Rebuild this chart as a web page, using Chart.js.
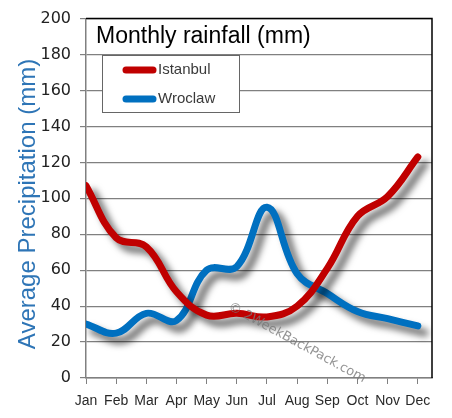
<!DOCTYPE html>
<html>
<head>
<meta charset="utf-8">
<script src="https://cdn.jsdelivr.net/npm/chart.js@4"></script>
<style>
  html, body { margin: 0; padding: 0; background: #fff; }
  #wrap { width: 452px; height: 418px; }
</style>
</head>
<body>
<div id="wrap"><canvas id="rainChart" width="452" height="418"></canvas></div>
<script>
const months = ['Jan', 'Feb', 'Mar', 'Apr', 'May', 'Jun', 'Jul', 'Aug', 'Sep', 'Oct', 'Nov', 'Dec'];
const istanbul = [107, 78, 73, 48, 35, 36, 34, 40, 61, 90, 101, 123];
const wroclaw = [30, 25, 36, 32, 60, 62, 95, 58, 47, 37, 33, 29];
const yTicks = [0, 20, 40, 60, 80, 100, 120, 140, 160, 180, 200];

const toPoints = arr => arr.map((v, i) => ({ x: i, y: v }));

// drop shadow under each line
const shadowPlugin = {
    id: 'shadow',
    beforeDatasetDraw(chart) {
        const ctx = chart.ctx;
        ctx.save();
        ctx.shadowColor = 'rgba(0,0,0,0.6)';
        ctx.shadowBlur = 7;
        ctx.shadowOffsetX = 7;
        ctx.shadowOffsetY = 7;
    },
    afterDatasetDraw(chart) {
        chart.ctx.restore();
    }
};

// title, y title, legend box, frame and watermark
const decorPlugin = {
    id: 'decor',
    afterDraw(chart) {
        const ctx = chart.ctx;
        const a = chart.chartArea;
        ctx.save();

        // black frame top + right
        ctx.strokeStyle = '#000';
        ctx.lineWidth = 1.5;
        ctx.beginPath();
        ctx.moveTo(a.left, a.top);
        ctx.lineTo(a.right, a.top);
        ctx.lineTo(a.right, a.bottom);
        ctx.stroke();

        // title
        ctx.fillStyle = '#000';
        ctx.font = '23px "Liberation Sans"';
        ctx.textBaseline = 'alphabetic';
        ctx.textAlign = 'left';
        ctx.fillText('Monthly rainfall (mm)', 96, 43);

        // y axis title
        ctx.save();
        ctx.translate(28, 204);
        ctx.rotate(-Math.PI / 2);
        ctx.fillStyle = '#2e75b6';
        ctx.font = '24px "Liberation Sans"';
        ctx.textAlign = 'center';
        ctx.textBaseline = 'middle';
        ctx.fillText('Average Precipitation (mm)', 0, 0);
        ctx.restore();

        // legend
        ctx.fillStyle = '#fff';
        ctx.fillRect(102, 55, 138, 58);
        ctx.strokeStyle = '#666';
        ctx.lineWidth = 1;
        ctx.strokeRect(102.5, 55.5, 137, 57);
        const ys = [70, 99];
        chart.data.datasets.forEach((ds, i) => {
            ctx.strokeStyle = ds.borderColor;
            ctx.lineWidth = 7;
            ctx.lineCap = 'round';
            ctx.beginPath();
            ctx.moveTo(126, ys[i]);
            ctx.lineTo(153, ys[i]);
            ctx.stroke();
            ctx.fillStyle = '#3a3a3a';
            ctx.font = '15px "Liberation Sans"';
            ctx.textBaseline = 'middle';
            ctx.fillText(ds.label, 158, ys[i]);
        });

        // watermark
        ctx.translate(229, 306);
        ctx.rotate(28.5 * Math.PI / 180);
        ctx.fillStyle = 'rgba(120,120,120,0.8)';
        ctx.font = '13px "DejaVu Sans"';
        ctx.textBaseline = 'middle';
        ctx.fillText('\u00a9 2WeekBackPack.com', 0, 0);

        ctx.restore();
    }
};

new Chart(document.getElementById('rainChart'), {
    type: 'line',
    data: {
        datasets: [{
            label: 'Istanbul',
            data: toPoints(istanbul),
            borderColor: '#c00000',
            borderWidth: 7,
            tension: 0.4,
            pointRadius: 0,
            borderCapStyle: 'round',
            borderJoinStyle: 'round',
            fill: false
        }, {
            label: 'Wroclaw',
            data: toPoints(wroclaw),
            borderColor: '#0070c0',
            borderWidth: 7,
            tension: 0.4,
            pointRadius: 0,
            borderCapStyle: 'round',
            borderJoinStyle: 'round',
            fill: false
        }]
    },
    options: {
        responsive: false,
        animation: false,
        devicePixelRatio: 1,
        layout: { padding: { left: 0, right: 20, top: 14, bottom: 0 } },
        plugins: {
            legend: { display: false },
            tooltip: { enabled: false }
        },
        scales: {
            x: {
                type: 'linear',
                min: 0,
                max: 11.47,
                afterBuildTicks: scale => { scale.ticks = months.map((m, i) => ({ value: i })); },
                afterFit: scale => { scale.height = 40; },
                ticks: {
                    callback: v => months[v],
                    color: '#2a2a2a',
                    font: { family: 'Liberation Sans', size: 14 },
                    padding: 9,
                    maxRotation: 0,
                    autoSkip: false
                },
                grid: { drawOnChartArea: false, drawTicks: true, tickLength: 6, color: '#808080' },
                border: { color: '#808080', width: 1.5 }
            },
            y: {
                min: 0,
                max: 200,
                afterBuildTicks: scale => { scale.ticks = yTicks.map(v => ({ value: v })); },
                afterFit: scale => { scale.width = 86; },
                ticks: {
                    color: '#222',
                    font: { family: 'DejaVu Sans', size: 16 },
                    padding: 9
                },
                grid: { color: '#808080', lineWidth: 1.2, tickLength: 6 },
                border: { color: '#808080', width: 1.5 }
            }
        }
    },
    plugins: [shadowPlugin, decorPlugin]
});
</script>
</body>
</html>
